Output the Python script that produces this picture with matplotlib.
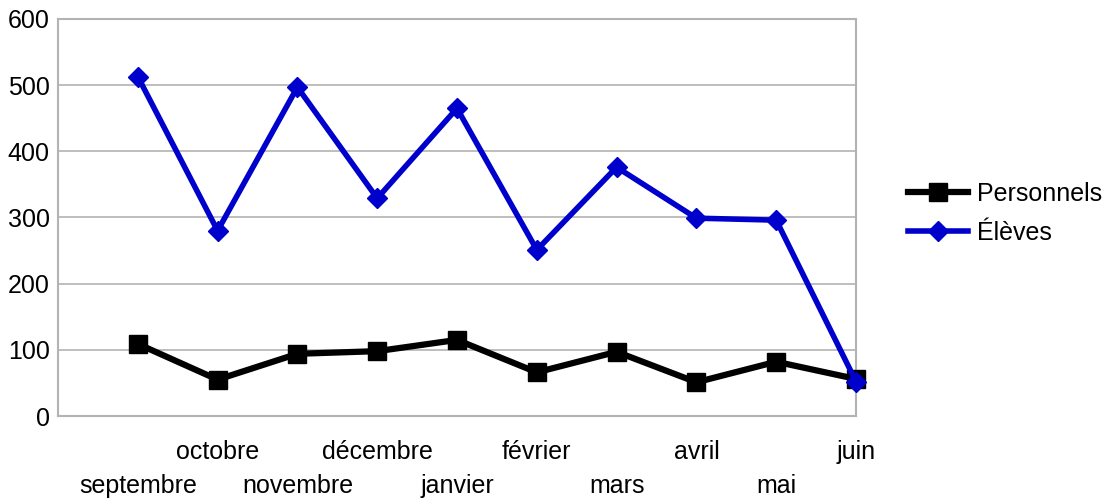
import matplotlib
matplotlib.use("Agg")
import matplotlib.pyplot as plt

months = ["septembre", "octobre", "novembre", "décembre", "janvier",
          "février", "mars", "avril", "mai", "juin"]
personnels = [109, 55, 94, 98, 115, 66, 97, 51, 82, 56]
eleves = [513, 280, 497, 329, 465, 251, 376, 299, 296, 52]
yticks = [0, 100, 200, 300, 400, 500, 600]

plt.rcParams['font.family'] = ['Liberation Sans', 'DejaVu Sans']

fig = plt.figure(figsize=(11.08, 4.99), dpi=100)
ax = fig.add_axes([58/1108, 83/499, (856-58)/1108, (416-19)/499])

x = list(range(1, len(months) + 1))
ax.plot(x, personnels, color='black', lw=4.5, marker='s', ms=12.5,
        label='Personnels', zorder=3, clip_on=False)
ax.plot(x, eleves, color='#0000CC', lw=4.0, marker='D', ms=10.5,
        label='Élèves', zorder=4, clip_on=False)

ax.set_xlim(0, len(months))
ax.set_ylim(0, 600)
ax.set_yticks(yticks)
ax.set_yticklabels([str(v) for v in yticks])
ax.yaxis.grid(True, color='#b3b3b3', lw=1.2)
ax.set_axisbelow(True)
for s in ax.spines.values():
    s.set_color('#b3b3b3')
    s.set_linewidth(1.5)

ax.set_xticks(x)
ax.set_xticklabels(months)
ax.tick_params(axis='both', length=0, labelsize=18)
ax.tick_params(axis='y', pad=6)
for i, t in enumerate(ax.xaxis.get_major_ticks()):
    t.set_pad(17 if i % 2 == 1 else 42)

leg = ax.legend(loc='center left', bbox_to_anchor=(1.065, 0.51), frameon=False,
                fontsize=18, handlelength=2.4, handletextpad=0.36,
                labelspacing=0.6, borderaxespad=0, borderpad=0)

fig.savefig('out.png', dpi=100)
